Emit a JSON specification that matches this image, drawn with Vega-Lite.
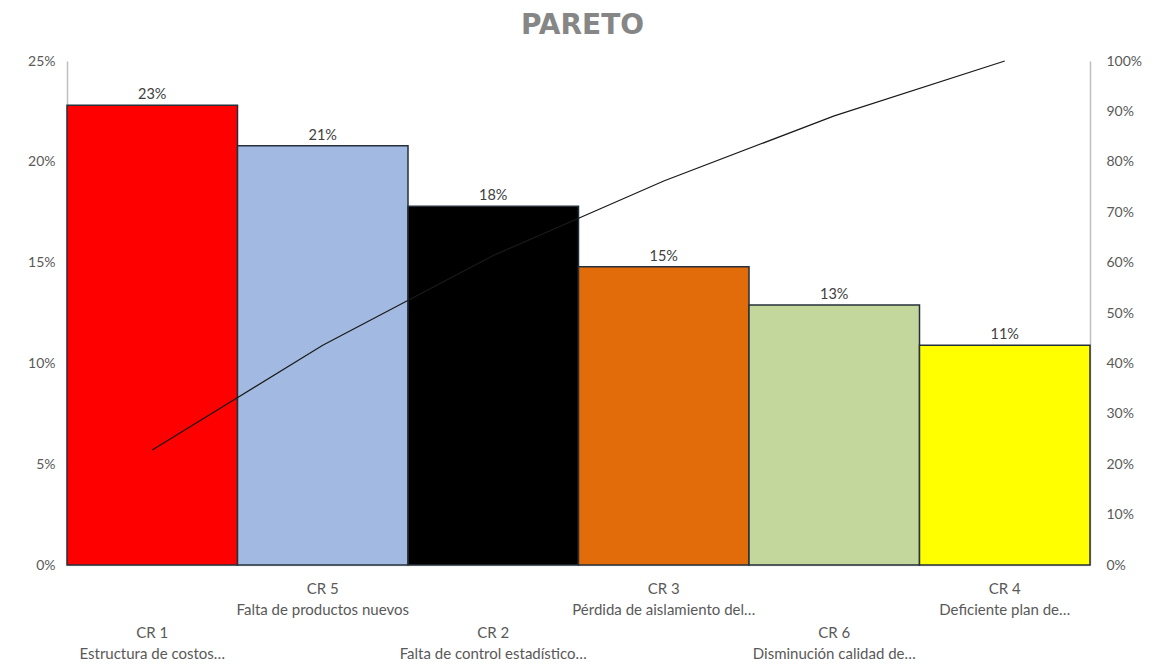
{
  "$schema": "https://vega.github.io/schema/vega-lite/v6.json",
  "width": 1023,
  "height": 504,
  "autosize": {"type": "none"},
  "padding": {"left": 67, "top": 61, "right": 75, "bottom": 107},
  "background": "white",
  "config": {"view": {"stroke": null}, "font": "Lato"},
  "title": {"text": "PARETO", "font": "DejaVu Sans", "fontSize": 28, "fontWeight": "bold", "color": "#868686", "anchor": "middle", "offset": 14, "dx": 4},
  "data": {"values": [
    {"cause": "CR 1|Estructura de costos…", "pct": 0.228, "cum": 0.228},
    {"cause": "CR 5|Falta de productos nuevos", "pct": 0.208, "cum": 0.436},
    {"cause": "CR 2|Falta de control estadístico…", "pct": 0.178, "cum": 0.614},
    {"cause": "CR 3|Pérdida de aislamiento del…", "pct": 0.148, "cum": 0.762},
    {"cause": "CR 6|Disminución calidad de…", "pct": 0.129, "cum": 0.891},
    {"cause": "CR 4|Deficiente plan de…", "pct": 0.109, "cum": 1.0}
  ]},
  "encoding": {
    "x": {
      "field": "cause", "type": "nominal", "sort": null,
      "scale": {"paddingInner": 0, "paddingOuter": 0},
      "axis": {
        "title": null, "labelAngle": 0, "ticks": false,
        "domainColor": "#D9D9D9", "domainWidth": 1.5,
        "labelColor": "#595959", "labelFontSize": 15, "labelFont": "Lato", "labelLimit": 300,
        "labelLineHeight": 21, "labelBaseline": "top",
        "labelPadding": {"condition": {"test": "round(datum.index*5) % 2 == 0", "value": 60}, "value": 16},
        "labelExpr": "split(datum.value,'|')"
      }
    }
  },
  "layer": [
    {
      "encoding": {
        "y": {"field": "pct", "type": "quantitative",
          "scale": {"domain": [0, 0.25]},
          "axis": {"title": null, "format": ".0%", "values": [0, 0.05, 0.1, 0.15, 0.2, 0.25],
            "grid": false, "ticks": false, "domainColor": "#BFBFBF", "domainWidth": 1.5,
            "labelColor": "#595959", "labelFontSize": 14, "labelPadding": 12}}
      },
      "layer": [
        {
          "mark": {"type": "bar", "stroke": "#26303a", "strokeWidth": 1.5},
          "encoding": {
            "color": {"field": "cause", "type": "nominal", "sort": null, "legend": null,
              "scale": {"range": ["#FF0000", "#A2BAE1", "#000000", "#E36C0A", "#C3D69B", "#FFFF00"]}}
          }
        },
        {
          "mark": {"type": "text", "baseline": "bottom", "dy": -3, "fontSize": 14.5, "color": "#404040", "font": "Lato"},
          "encoding": {"text": {"field": "pct", "type": "quantitative", "format": ".0%"}}
        }
      ]
    },
    {
      "mark": {"type": "line", "color": "#1a1a1a", "strokeWidth": 1.2},
      "encoding": {
        "y": {"field": "cum", "type": "quantitative",
          "scale": {"domain": [0, 1]},
          "axis": {"title": null, "orient": "right", "format": ".0%", "values": [0, 0.1, 0.2, 0.3, 0.4, 0.5, 0.6, 0.7, 0.8, 0.9, 1],
            "grid": false, "ticks": false, "domainColor": "#BFBFBF", "domainWidth": 1.5,
            "labelColor": "#595959", "labelFontSize": 14, "labelPadding": 16}}
      }
    }
  ],
  "resolve": {"scale": {"y": "independent", "color": "independent"}}
}
